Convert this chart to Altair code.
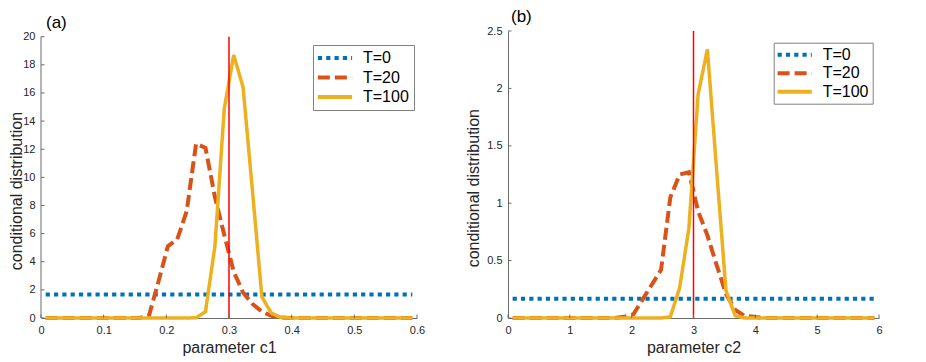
import altair as alt
import pandas as pd

# ---------------- data ----------------
SERIES = ["T=0", "T=20", "T=100"]
COLORS = ["#0072BD", "#D95319", "#EDB120"]
DASHES = [[4.2, 4.1], [12, 5], [1, 0]]
WIDTHS = [4, 4, 3.5]

# bin centres (40 bins)
C1 = [round(0.0075 + 0.015 * k, 4) for k in range(40)]
C2 = [round(0.075 + 0.15 * k, 3) for k in range(40)]

# panel (a): parameter c1
A_T0 = [1.667] * 40
A_T20 = [0] * 11 + [0.2, 2.6, 5.1, 5.6, 7.6, 12.4, 12.1, 8.6, 5.9, 3.3,
                    1.8, 1.0, 0.45, 0.15, 0.04] + [0] * 14
A_T100 = [0] * 16 + [0.02, 0.45, 5.1, 14.9, 18.7, 16.4, 9.0, 1.5, 0.35,
                     0.05] + [0] * 14

# panel (b): parameter c2
B_T0 = [0.1667] * 40
B_T20 = [0] * 12 + [0.01, 0.03, 0.16, 0.29, 0.42, 1.05, 1.25, 1.27, 0.93,
                    0.72, 0.46, 0.21, 0.07, 0.02, 0.01] + [0] * 13
B_T100 = [0] * 17 + [0.01, 0.26, 0.78, 1.95, 2.34, 1.28, 0.24, 0.02] + [0] * 15

TRUE_C1 = 0.3
TRUE_C2 = 3.0

XT_A = [0, 0.1, 0.2, 0.3, 0.4, 0.5, 0.6]
YT_A = [0, 2, 4, 6, 8, 10, 12, 14, 16, 18, 20]
XT_B = [0, 1, 2, 3, 4, 5, 6]
YT_B = [0, 0.5, 1, 1.5, 2, 2.5]

AXIS_COL = "#6b6b6b"
TXT_COL = "#262626"
FONT = "Liberation Sans"


def panel(xs, vals, xticks, yticks, ytop, ydom_top, width, height, truth,
          xtitle, tag, leg_x, leg_y, leg_pad, leg_rowpad, title_dx,
          ytitle_x, ytitle_y, manual_ydomain):
    rows = []
    for s, v in zip(SERIES, vals):
        for x, y in zip(xs, v):
            rows.append({"x": x, "y": y, "series": s})
    df = pd.DataFrame(rows)

    xscale = alt.Scale(domain=[xticks[0], xticks[-1]], nice=False, zero=False)
    yscale = alt.Scale(domain=[0, ydom_top], nice=False, zero=False)
    xaxis = alt.Axis(values=xticks, format="~g", title=xtitle, labelPadding=6,
                     titleY=34.5, titleBaseline="alphabetic")
    yaxis = alt.Axis(values=yticks, format="~g",
                     title="conditional distribution", labelPadding=6,
                     titleX=ytitle_x, titleY=ytitle_y, titleAngle=270,
                     titleAlign="center", titleBaseline="alphabetic",
                     domain=not manual_ydomain)

    def X(f):
        return alt.X(f, type="quantitative", scale=xscale, axis=xaxis)

    def Y(f):
        return alt.Y(f, type="quantitative", scale=yscale, axis=yaxis)

    legend = alt.Legend(title=None, orient="none", legendX=leg_x,
                        legendY=leg_y, padding=leg_pad, rowPadding=leg_rowpad,
                        labelExpr="datum.label + '\u00a0\u00a0'")

    layers = []
    if manual_ydomain:
        dom = pd.DataFrame({"x": [xticks[0]], "y": [0], "y2": [ytop]})
        layers.append(alt.Chart(dom).mark_rule(color=AXIS_COL, strokeWidth=1)
                      .encode(x=X("x"), y=Y("y"), y2="y2:Q"))

    for s, w in zip(SERIES, WIDTHS):
        layers.append(
            alt.Chart(df).transform_filter(alt.datum.series == s)
            .mark_line(strokeWidth=w, strokeCap="butt", strokeJoin="miter",
                       clip=False)
            .encode(
                x=X("x"), y=Y("y"),
                color=alt.Color("series:N",
                                scale=alt.Scale(domain=SERIES, range=COLORS),
                                legend=legend),
                strokeDash=alt.StrokeDash("series:N",
                                          scale=alt.Scale(domain=SERIES,
                                                          range=DASHES),
                                          legend=legend),
            )
        )

    red = pd.DataFrame({"x": [truth], "y": [0], "y2": [ytop]})
    layers.append(alt.Chart(red).mark_rule(color="#FF0000", strokeWidth=1.5)
                  .encode(x=X("x"), y=Y("y"), y2="y2:Q"))

    xt = pd.DataFrame({"x": xticks})
    layers.append(alt.Chart(xt).mark_rule(color=AXIS_COL, strokeWidth=1)
                  .encode(x=X("x"), y=alt.value(height),
                          y2=alt.value(height - 3.5)))
    yt = pd.DataFrame({"y": yticks})
    layers.append(alt.Chart(yt).mark_rule(color=AXIS_COL, strokeWidth=1)
                  .encode(y=Y("y"), x=alt.value(0), x2=alt.value(3.5)))

    return alt.layer(*layers).properties(
        width=width, height=height,
        title=alt.TitleParams(tag, anchor="start", frame="group", fontSize=17,
                              font=FONT, fontWeight="normal", color="black",
                              offset=-1, dx=title_dx),
    )


H = 287
pa = panel(C1, [A_T0, A_T20, A_T100], XT_A, YT_A, 20, 20 * H / 281.3, 376, H,
           TRUE_C1, "parameter c1", "(a)", 272, 14, 5, 3.5, 5, -20, 159.6,
           True)
pb = panel(C2, [B_T0, B_T20, B_T100], XT_B, YT_B, 2.5, 2.5, 371, H,
           TRUE_C2, "parameter c2", "(b)", 265.7, 11.7, 4, 2.5, 3, -30, 156.7,
           False)

chart = (
    alt.hconcat(pa, pb, spacing=91, bounds="flush")
    .resolve_scale(color="independent", strokeDash="independent")
    .resolve_legend(color="independent", strokeDash="independent")
    .properties(padding=0)
    .configure(font=FONT)
    .configure_view(stroke=None)
    .configure_axis(
        labelFont=FONT, labelFontSize=11, labelColor=TXT_COL,
        labelFlush=False, labelOverlap=False,
        domainColor=AXIS_COL, domainWidth=1,
        ticks=False, tickSize=0, grid=False,
        titleFont=FONT, titleFontSize=16, titleFontWeight="normal",
        titleColor=TXT_COL, titlePadding=0,
    )
    .configure_legend(
        symbolType="M-2.85,0H2.85", symbolSize=144, symbolStrokeWidth=4,
        symbolOffset=9, labelOffset=20, labelFontSize=16, labelFont=FONT,
        labelColor="black", strokeColor="#808080", fillColor="white",
        cornerRadius=0,
    )
)

chart.save("out.html", embed_options={"renderer": "svg", "actions": False})
